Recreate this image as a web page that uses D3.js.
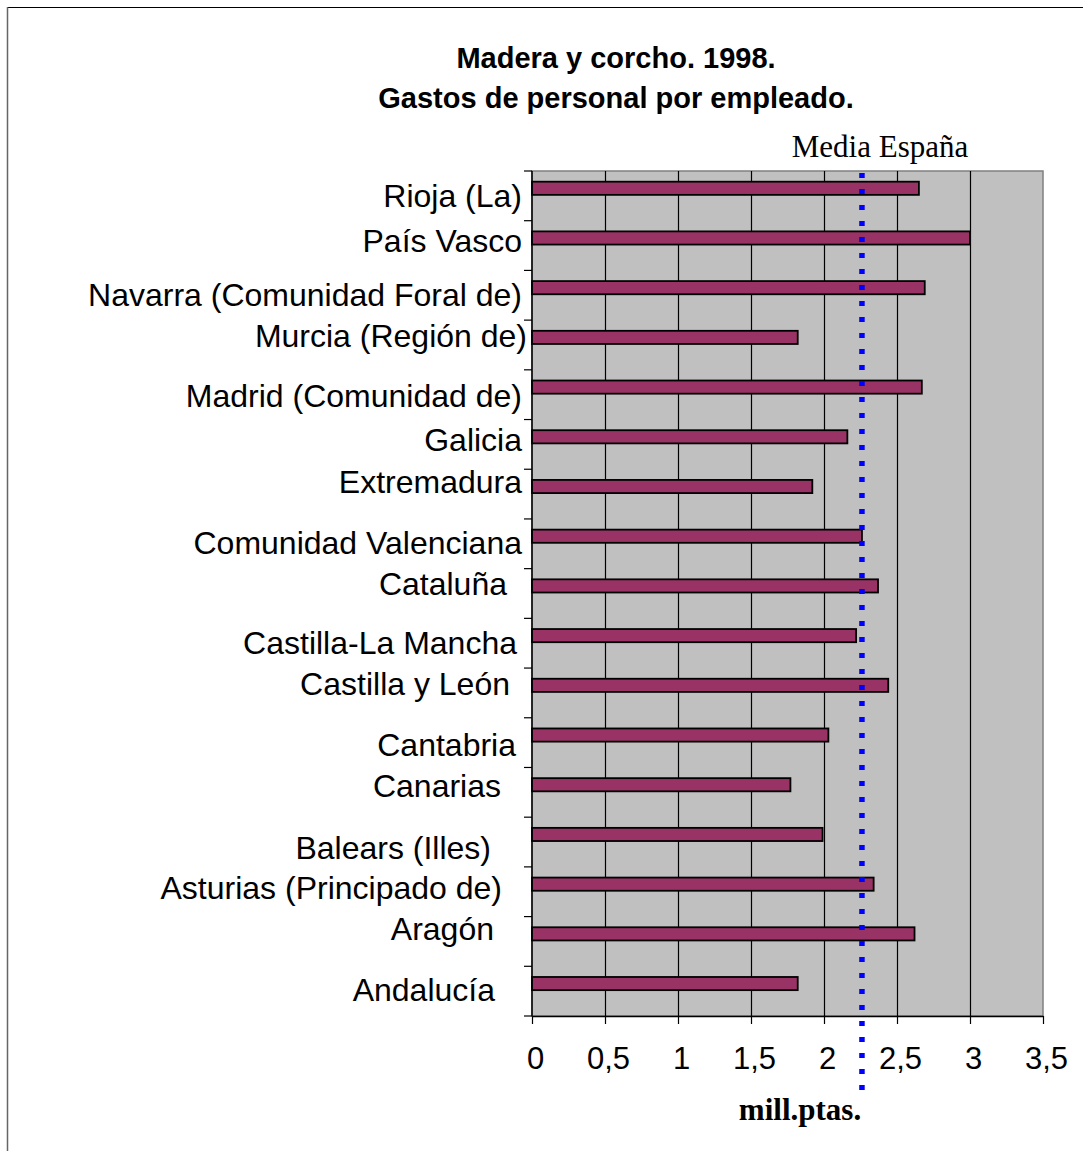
<!DOCTYPE html>
<html>
<head>
<meta charset="utf-8">
<script src="https://cdn.jsdelivr.net/npm/d3@7"></script>
<style>
  html, body { margin: 0; padding: 0; background: #ffffff; }
  svg { display: block; }
</style>
</head>
<body>
<script>
// ---- Data ----
const titleLines = ["Madera y corcho. 1998.", "Gastos de personal por empleado."];
const categories = [
  "Rioja (La)", "País Vasco", "Navarra (Comunidad Foral de)", "Murcia (Región de)",
  "Madrid (Comunidad de)", "Galicia", "Extremadura", "Comunidad Valenciana", "Cataluña",
  "Castilla-La Mancha", "Castilla y León", "Cantabria", "Canarias", "Balears (Illes)",
  "Asturias (Principado de)", "Aragón", "Andalucía"
];
const values = [2.65, 3.00, 2.69, 1.82, 2.67, 2.16, 1.92, 2.26, 2.37, 2.22, 2.44, 2.03, 1.77, 1.99, 2.34, 2.62, 1.82];
const mediaEspana = 2.26;
const mediaLabel = "Media España";
const xTickValues = [0, 0.5, 1, 1.5, 2, 2.5, 3, 3.5];
const xTickLabels = ["0", "0,5", "1", "1,5", "2", "2,5", "3", "3,5"];
const xAxisTitle = "mill.ptas.";

// ---- Layout (label nudges as in the original picture, [dx, dy] in px) ----
const labelNudge = [
  [0, 0], [0, -5], [0, 0], [5, -9], [0, 1], [0, -4], [0, -12], [0, -1], [-15, -10],
  [-5, 0], [-12, -9], [-6, 2], [-21, -6], [-31, 6], [-20, -4], [-28, -12], [-27, -1]
];

const W = 1083, H = 1151;
const plot = { left: 532, right: 1043, top: 171, bottom: 1016 };
const sans = "'Liberation Sans', Arial, Helvetica, sans-serif";
const serif = "'Liberation Serif', 'Times New Roman', Times, serif";

const svg = d3.select("body").append("svg")
  .attr("width", W).attr("height", H);

svg.append("rect").attr("x", 0).attr("y", 0).attr("width", W).attr("height", H).attr("fill", "#fff");

// outer chart border (top and left visible)
svg.append("line").attr("x1", 7).attr("x2", W).attr("y1", 7.5).attr("y2", 7.5)
  .attr("stroke", "#000").attr("stroke-width", 1.2);
svg.append("line").attr("x1", 7.5).attr("x2", 7.5).attr("y1", 7).attr("y2", H)
  .attr("stroke", "#666").attr("stroke-width", 1.5);

const x = d3.scaleLinear().domain([0, 3.5]).range([plot.left, plot.right]);
const y = d3.scaleBand().domain(categories).range([plot.top, plot.bottom]).padding(0);
const step = y.step();

// plot background
svg.append("rect")
  .attr("x", plot.left).attr("y", plot.top)
  .attr("width", plot.right - plot.left).attr("height", plot.bottom - plot.top)
  .attr("fill", "#c0c0c0").attr("stroke", "#808080").attr("stroke-width", 1.5);

// vertical gridlines
svg.append("g").selectAll("line")
  .data(xTickValues.filter(v => v > 0 && v < 3.5))
  .join("line")
  .attr("x1", d => Math.round(x(d)) + 0.5).attr("x2", d => Math.round(x(d)) + 0.5)
  .attr("y1", plot.top).attr("y2", plot.bottom)
  .attr("stroke", "#000").attr("stroke-width", 1.2);

// bars
svg.append("g").selectAll("rect")
  .data(categories)
  .join("rect")
  .attr("x", x(0))
  .attr("y", d => y(d) + step * 0.215)
  .attr("width", (d, i) => x(values[i]) - x(0))
  .attr("height", step * 0.265)
  .attr("fill", "#993366")
  .attr("stroke", "#000")
  .attr("stroke-width", 1.8);

// x axis
const xAxis = d3.axisBottom(x)
  .tickValues(xTickValues)
  .tickFormat((d, i) => xTickLabels[i])
  .tickSizeOuter(0)
  .tickSizeInner(8)
  .tickPadding(0);
const gx = svg.append("g").attr("transform", `translate(0,${plot.bottom})`).call(xAxis);
gx.select(".domain").attr("stroke", "#000").attr("stroke-width", 1.5);
gx.selectAll(".tick line").attr("stroke", "#000").attr("stroke-width", 1.2);
gx.selectAll(".tick text")
  .attr("y", 53).attr("dy", 0).attr("dx", 3)
  .attr("fill", "#000")
  .style("font-family", sans).style("font-size", "31px");

// y axis: line and ticks at band boundaries
const boundaries = categories.map(c => y(c)).concat([plot.bottom]);
svg.append("line")
  .attr("x1", plot.left).attr("x2", plot.left)
  .attr("y1", plot.top).attr("y2", plot.bottom)
  .attr("stroke", "#000").attr("stroke-width", 1.5);
svg.append("g").selectAll("line")
  .data(boundaries)
  .join("line")
  .attr("x1", plot.left - 8).attr("x2", plot.left)
  .attr("y1", d => d).attr("y2", d => d)
  .attr("stroke", "#000").attr("stroke-width", 1.2);

// category labels
svg.append("g").selectAll("text")
  .data(categories)
  .join("text")
  .attr("x", (d, i) => plot.left - 10 + labelNudge[i][0])
  .attr("y", (d, i) => y(d) + step / 2 + 11 + labelNudge[i][1])
  .attr("text-anchor", "end")
  .style("font-family", sans).style("font-size", "32px")
  .attr("fill", "#000")
  .text(d => d);

// Media España line
svg.append("line")
  .attr("x1", x(mediaEspana)).attr("x2", x(mediaEspana))
  .attr("y1", 173).attr("y2", 1095)
  .attr("stroke", "#0000ff").attr("stroke-width", 5.5)
  .attr("stroke-dasharray", "5 11");

svg.append("text")
  .attr("x", 880).attr("y", 157)
  .attr("text-anchor", "middle")
  .style("font-family", serif).style("font-size", "31px")
  .attr("fill", "#000")
  .text(mediaLabel);

// title
svg.append("g").selectAll("text")
  .data(titleLines)
  .join("text")
  .attr("x", 616)
  .attr("y", (d, i) => 68 + i * 40)
  .attr("text-anchor", "middle")
  .style("font-family", sans).style("font-size", "29px").style("font-weight", "bold")
  .attr("fill", "#000")
  .text(d => d);

// x axis title
svg.append("text")
  .attr("x", 800).attr("y", 1120)
  .attr("text-anchor", "middle")
  .style("font-family", serif).style("font-size", "31px").style("font-weight", "bold")
  .attr("fill", "#000")
  .text(xAxisTitle);
</script>
</body>
</html>
